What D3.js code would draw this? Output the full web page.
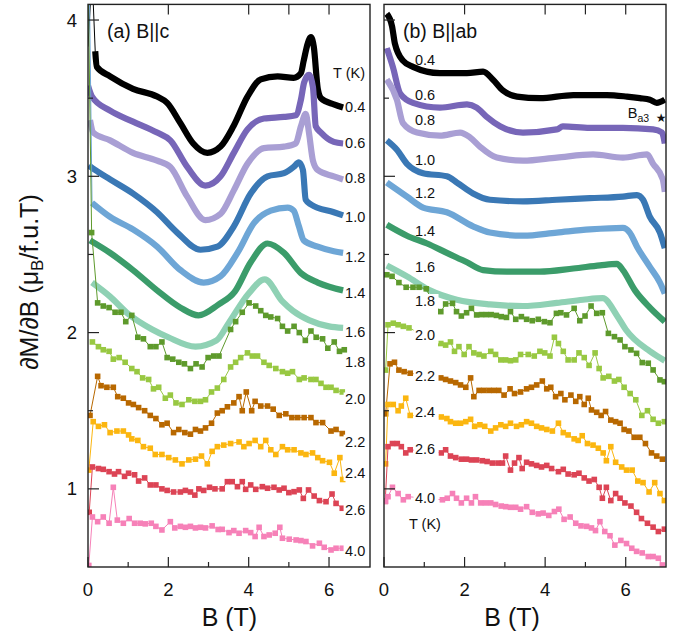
<!DOCTYPE html>
<html><head><meta charset="utf-8">
<script src="https://cdn.jsdelivr.net/npm/d3@7"></script>
<style>
body{margin:0;background:#fff}
svg{display:block}
text{font-family:"Liberation Sans",Arial,Helvetica,sans-serif;fill:#111}
</style>
</head><body>
<svg id="chart" width="683" height="637"></svg>
<script>
// ---------- data ----------
const temps = ["0.4","0.6","0.8","1.0","1.2","1.4","1.6","1.8","2.0","2.2","2.4","2.6","4.0"];
const colors = ["#000000","#7766b8","#a99fd4","#3a78b5","#6ea6d6","#3b9c6a","#8fd1b4","#5e9a2c","#98c842","#b86800","#fbb610","#dc4455","#f681b8"];
const denseCount = 7; // first seven temperatures are dense (continuous) curves

// panel (a) B||c : [B (T), dM/dB]
const a04 = [[0,3.83],[0.1,4.3],[0.18,3.8],[0.22,3.70],[0.55,3.64],[1.12,3.56],[1.72,3.51],[1.97,3.47],[2.3,3.34],[2.62,3.21],[2.97,3.15],[3.3,3.19],[3.62,3.32],[3.97,3.51],[4.3,3.62],[4.72,3.64],[5.12,3.63],[5.3,3.66],[5.37,3.74],[5.47,3.85],[5.55,3.89],[5.62,3.83],[5.72,3.56],[5.8,3.5],[6.12,3.46],[6.35,3.44]];
const a06 = [[0,3.58],[0.1,3.51],[0.55,3.42],[1.12,3.35],[1.72,3.28],[2.05,3.23],[2.47,3.06],[2.92,2.94],[3.3,3.0],[3.63,3.15],[3.97,3.3],[4.38,3.37],[4.88,3.38],[5.17,3.39],[5.3,3.49],[5.38,3.6],[5.5,3.65],[5.6,3.57],[5.67,3.32],[5.8,3.28],[6.12,3.22],[6.35,3.21]];
const a08 = [[0.05,3.36],[0.13,3.28],[0.55,3.23],[1.12,3.15],[1.72,3.1],[2.05,3.06],[2.47,2.87],[2.92,2.72],[3.3,2.76],[3.63,2.91],[3.97,3.08],[4.38,3.18],[4.88,3.19],[5.17,3.21],[5.3,3.32],[5.42,3.4],[5.5,3.28],[5.6,3.1],[5.72,3.04],[6.12,3.0],[6.35,2.98]];
const a10 = [[0.02,3.07],[0.18,3.04],[0.55,2.98],[1.12,2.89],[1.72,2.77],[2.22,2.64],[2.8,2.53],[3.22,2.55],[3.63,2.68],[4.05,2.89],[4.47,3.0],[4.88,3.02],[5.12,3.06],[5.25,3.09],[5.35,3.04],[5.42,2.85],[5.55,2.82],[6.12,2.77],[6.35,2.75]];
const a12 = [[0,3.92],[0.03,4.3],[0.1,2.83],[0.55,2.74],[1.12,2.66],[1.72,2.55],[2.3,2.4],[2.88,2.32],[3.3,2.36],[3.72,2.51],[4.13,2.7],[4.55,2.78],[4.97,2.8],[5.12,2.78],[5.25,2.68],[5.37,2.59],[5.72,2.55],[6.12,2.52],[6.35,2.51]];
const a14 = [[0.05,2.59],[0.55,2.51],[1.12,2.4],[1.72,2.27],[2.3,2.16],[2.75,2.11],[3.25,2.18],[3.65,2.26],[4.05,2.45],[4.47,2.57],[4.88,2.51],[5.3,2.38],[5.72,2.32],[6.35,2.27]];
const a16 = [[0.1,2.32],[0.55,2.23],[1.0,2.12],[1.6,2.02],[2.0,1.97],[2.675,1.91],[3.2,1.95],[3.5,2.06],[4.0,2.25],[4.4,2.34],[4.84,2.2],[5.1,2.14],[5.5,2.08],[6.0,2.04],[6.35,2.03]];
const a18 = [[0.0,4.3],[0.09,2.64],[0.24,2.19],[0.38,2.17],[0.525,2.16],[0.675,2.13],[0.82,2.13],[0.94,2.07],[1.09,2.11],[1.24,1.97],[1.38,1.96],[1.55,1.91],[1.69,1.91],[1.84,1.94],[1.97,1.84],[2.11,1.83],[2.26,1.81],[2.4,1.8],[2.55,1.77],[2.69,1.8],[2.84,1.78],[2.99,1.84],[3.13,1.85],[3.26,1.85],[3.55,2.02],[3.675,2.07],[3.84,2.13],[4.01,2.19],[4.175,2.17],[4.3,2.14],[4.425,2.11],[4.55,2.1],[4.72,2.09],[4.84,2.04],[4.97,2.01],[5.13,2.04],[5.26,2.0],[5.41,1.95],[5.55,2.01],[5.68,1.97],[5.84,1.96],[5.97,1.9],[6.13,1.94],[6.26,1.88],[6.38,1.89]];
const a20 = [[0.11,1.94],[0.26,1.91],[0.38,1.89],[0.525,1.88],[0.63,1.83],[0.775,1.84],[0.925,1.81],[1.09,1.77],[1.22,1.75],[1.36,1.71],[1.51,1.7],[1.63,1.64],[1.76,1.65],[1.925,1.58],[2.05,1.6],[2.19,1.55],[2.34,1.54],[2.51,1.57],[2.66,1.56],[2.8,1.56],[2.925,1.57],[3.075,1.62],[3.22,1.645],[3.38,1.7],[3.55,1.78],[3.675,1.81],[3.8,1.84],[3.97,1.87],[4.09,1.85],[4.22,1.85],[4.38,1.81],[4.51,1.79],[4.675,1.77],[4.84,1.75],[4.97,1.74],[5.09,1.75],[5.26,1.7],[5.38,1.71],[5.55,1.7],[5.675,1.7],[5.8,1.675],[5.925,1.65],[6.05,1.65],[6.175,1.63],[6.33,1.62]];
const a22 = [[0.05,1.47],[0.24,1.72],[0.325,1.66],[0.47,1.65],[0.63,1.65],[0.74,1.59],[0.88,1.58],[1.01,1.55],[1.13,1.54],[1.26,1.52],[1.41,1.5],[1.55,1.47],[1.69,1.45],[1.84,1.41],[1.97,1.42],[2.13,1.36],[2.26,1.38],[2.41,1.36],[2.55,1.35],[2.675,1.38],[2.8,1.37],[2.925,1.39],[3.075,1.42],[3.22,1.485],[3.34,1.5],[3.47,1.525],[3.63,1.55],[3.76,1.59],[3.84,1.5],[3.94,1.62],[4.075,1.5],[4.16,1.56],[4.3,1.53],[4.47,1.53],[4.61,1.51],[4.76,1.47],[4.925,1.48],[5.075,1.456],[5.22,1.456],[5.38,1.456],[5.55,1.456],[5.675,1.424],[5.84,1.424],[6.05,1.37],[6.175,1.38],[6.33,1.354]];
const a24 = [[0.02,1.12],[0.13,1.43],[0.26,1.4],[0.41,1.41],[0.55,1.36],[0.72,1.37],[0.88,1.37],[1.01,1.345],[1.09,1.32],[1.24,1.31],[1.38,1.27],[1.55,1.26],[1.675,1.22],[1.84,1.22],[2.01,1.2],[2.175,1.185],[2.34,1.16],[2.51,1.185],[2.675,1.19],[2.825,1.21],[2.97,1.16],[3.09,1.24],[3.22,1.27],[3.38,1.28],[3.55,1.29],[3.76,1.3],[3.88,1.27],[4.01,1.29],[4.16,1.31],[4.3,1.27],[4.425,1.31],[4.55,1.25],[4.675,1.22],[4.84,1.27],[4.97,1.25],[5.13,1.25],[5.3,1.23],[5.425,1.22],[5.59,1.23],[5.72,1.2],[5.84,1.18],[6.01,1.17],[6.13,1.1],[6.27,1.2],[6.34,1.06]];
const a26 = [[0.03,0.85],[0.11,1.14],[0.26,1.13],[0.38,1.125],[0.525,1.11],[0.66,1.095],[0.76,1.11],[0.91,1.08],[1.01,1.1],[1.16,1.09],[1.26,1.05],[1.41,1.07],[1.55,1.025],[1.69,1.025],[1.84,1.0],[1.97,0.99],[2.13,0.98],[2.3,0.98],[2.425,0.99],[2.55,0.98],[2.66,0.96],[2.76,1.0],[2.88,0.99],[3.025,1.01],[3.16,1.0],[3.34,1.0],[3.47,1.046],[3.59,1.046],[3.72,1.014],[3.84,1.046],[3.925,0.997],[4.05,1.025],[4.175,0.997],[4.34,1.014],[4.47,1.004],[4.63,1.01],[4.76,0.993],[4.88,1.004],[5.0,0.976],[5.13,0.982],[5.26,0.993],[5.36,0.939],[5.49,0.993],[5.63,0.954],[5.76,0.925],[5.925,0.918],[6.075,0.967],[6.175,0.907],[6.33,0.876]];
const a40 = [[0.02,0.51],[0.11,0.82],[0.24,0.79],[0.38,0.82],[0.525,0.78],[0.63,1.01],[0.73,0.8],[0.88,0.78],[1.025,0.81],[1.16,0.78],[1.3,0.78],[1.425,0.776],[1.575,0.78],[1.69,0.76],[1.84,0.737],[2.05,0.79],[2.16,0.75],[2.3,0.76],[2.425,0.754],[2.55,0.76],[2.675,0.75],[2.8,0.754],[2.925,0.75],[3.09,0.763],[3.24,0.74],[3.34,0.741],[3.51,0.72],[3.63,0.733],[3.76,0.716],[3.925,0.733],[4.05,0.72],[4.16,0.695],[4.26,0.754],[4.38,0.695],[4.51,0.705],[4.66,0.716],[4.775,0.754],[4.84,0.684],[5.01,0.678],[5.18,0.673],[5.3,0.669],[5.425,0.663],[5.59,0.635],[5.76,0.652],[5.88,0.626],[6.05,0.609],[6.175,0.62],[6.33,0.62]];

// panel (b) B||ab
const b04 = [[0.07,4.04],[0.2,3.96],[0.27,3.85],[0.47,3.74],[0.72,3.7],[1.39,3.66],[2.06,3.66],[2.46,3.67],[2.7,3.62],[2.95,3.55],[3.3,3.51],[3.87,3.5],[4.7,3.52],[5.53,3.52],[6.03,3.51],[6.35,3.5],[6.6,3.49],[6.77,3.47],[6.97,3.49]];
const b06 = [[0.07,3.82],[0.22,3.7],[0.4,3.53],[0.72,3.47],[1.39,3.44],[2.06,3.46],[2.3,3.44],[2.55,3.38],[2.88,3.32],[3.45,3.28],[4.29,3.3],[4.44,3.32],[5.11,3.31],[5.93,3.31],[6.68,3.3],[6.9,3.28],[6.97,3.21]];
const b08 = [[0.07,3.62],[0.32,3.49],[0.47,3.34],[0.82,3.28],[1.39,3.26],[1.89,3.28],[2.13,3.25],[2.38,3.19],[2.8,3.12],[3.45,3.1],[4.29,3.12],[5.19,3.14],[5.93,3.12],[6.53,3.14],[6.68,3.08],[6.92,2.98],[6.97,2.9]];
const b10 = [[0.07,3.23],[0.32,3.17],[0.57,3.08],[0.97,3.02],[1.56,3.0],[1.81,2.96],[2.21,2.89],[2.63,2.85],[3.45,2.84],[4.29,2.85],[5.11,2.86],[5.93,2.87],[6.28,2.88],[6.43,2.85],[6.6,2.74],[6.85,2.64],[6.97,2.54]];
const b12 = [[0.07,2.96],[0.57,2.87],[0.97,2.8],[1.56,2.77],[2.21,2.68],[2.63,2.64],[3.45,2.62],[4.29,2.64],[5.11,2.66],[5.93,2.67],[6.1,2.64],[6.28,2.55],[6.6,2.42],[6.85,2.32],[6.97,2.25]];
const b14 = [[0.07,2.69],[0.57,2.62],[1.07,2.57],[1.56,2.51],[2.06,2.45],[2.46,2.4],[3.05,2.39],[3.87,2.39],[4.7,2.41],[5.36,2.43],[5.78,2.44],[5.93,2.4],[6.23,2.27],[6.6,2.16],[6.97,2.07]];
const b16 = [[0.07,2.43],[0.57,2.36],[1.14,2.27],[1.81,2.21],[2.63,2.18],[3.45,2.17],[4.29,2.19],[4.94,2.21],[5.43,2.22],[5.78,2.11],[6.0,2.02],[6.6,1.88],[6.97,1.82]];
const b18 = [[0.07,2.37],[0.2,2.36],[0.37,2.32],[0.55,2.29],[0.72,2.29],[0.87,2.29],[1.05,2.28],[1.2,2.2],[1.41,2.134],[1.53,2.183],[1.7,2.187],[1.8,2.134],[1.92,2.106],[2.05,2.127],[2.17,2.155],[2.3,2.113],[2.42,2.115],[2.54,2.115],[2.66,2.115],[2.79,2.11],[2.91,2.102],[3.04,2.097],[3.14,2.134],[3.27,2.085],[3.41,2.102],[3.54,2.085],[3.68,2.076],[3.83,2.085],[3.98,2.07],[4.12,2.063],[4.28,2.123],[4.39,2.127],[4.53,2.113],[4.72,2.155],[4.86,2.076],[4.99,2.106],[5.14,2.17],[5.28,2.123],[5.42,2.127],[5.57,1.995],[5.72,1.974],[5.86,1.953],[5.98,1.91],[6.13,1.889],[6.27,1.867],[6.41,1.808],[6.56,1.804],[6.68,1.761],[6.85,1.697],[6.96,1.686]];
const b20 = [[0.04,1.76],[0.1,2.05],[0.23,2.06],[0.35,2.05],[0.48,2.04],[0.62,2.03],[1.41,1.93],[1.53,1.92],[1.65,1.94],[1.75,1.88],[1.86,1.91],[1.99,1.86],[2.11,1.91],[2.23,1.87],[2.36,1.86],[2.48,1.85],[2.65,1.88],[2.77,1.86],[2.9,1.825],[3.02,1.825],[3.14,1.82],[3.27,1.825],[3.39,1.86],[3.58,1.86],[3.73,1.85],[3.87,1.88],[3.99,1.87],[4.12,1.85],[4.23,1.97],[4.33,1.93],[4.45,1.88],[4.57,1.825],[4.72,1.825],[4.84,1.87],[4.97,1.84],[5.09,1.79],[5.24,1.87],[5.34,1.77],[5.44,1.71],[5.58,1.72],[5.72,1.69],[5.83,1.7],[5.96,1.65],[6.11,1.61],[6.25,1.57],[6.4,1.47],[6.54,1.5],[6.68,1.445],[6.81,1.42],[6.96,1.43]];
const b22 = [[0.04,1.48],[0.15,1.8],[0.26,1.81],[0.37,1.76],[0.5,1.75],[0.65,1.74],[1.41,1.71],[1.53,1.7],[1.65,1.69],[1.78,1.68],[1.9,1.665],[2.03,1.65],[2.15,1.71],[2.23,1.59],[2.36,1.63],[2.48,1.63],[2.61,1.63],[2.73,1.63],[2.85,1.63],[2.98,1.6],[3.13,1.64],[3.24,1.61],[3.39,1.62],[3.54,1.64],[3.66,1.65],[3.79,1.665],[3.93,1.69],[4.04,1.64],[4.14,1.65],[4.26,1.59],[4.39,1.61],[4.49,1.57],[4.64,1.6],[4.76,1.56],[4.86,1.59],[4.97,1.54],[5.07,1.58],[5.15,1.505],[5.28,1.49],[5.39,1.47],[5.5,1.495],[5.63,1.44],[5.75,1.43],[5.86,1.42],[5.96,1.38],[6.08,1.37],[6.21,1.33],[6.35,1.33],[6.49,1.29],[6.64,1.23],[6.77,1.21],[6.91,1.19]];
const b24 = [[0.04,1.16],[0.1,1.54],[0.23,1.54],[0.35,1.5],[0.43,1.53],[0.54,1.58],[0.65,1.47],[1.42,1.46],[1.56,1.45],[1.65,1.43],[1.78,1.42],[1.9,1.42],[2.03,1.43],[2.15,1.445],[2.25,1.4],[2.38,1.41],[2.5,1.4],[2.65,1.37],[2.77,1.39],[2.9,1.41],[3.02,1.4],[3.14,1.42],[3.29,1.4],[3.41,1.41],[3.54,1.43],[3.66,1.42],[3.79,1.4],[3.91,1.39],[4.04,1.38],[4.18,1.37],[4.33,1.42],[4.45,1.36],[4.57,1.345],[4.72,1.32],[4.82,1.31],[4.92,1.34],[5.05,1.29],[5.19,1.28],[5.32,1.26],[5.44,1.23],[5.52,1.18],[5.63,1.27],[5.75,1.17],[5.9,1.14],[6.02,1.12],[6.16,1.12],[6.3,1.05],[6.43,1.04],[6.58,0.98],[6.72,1.04],[6.85,0.97],[6.96,0.925]];
const b26 = [[0.03,0.92],[0.1,1.27],[0.21,1.29],[0.33,1.29],[0.43,1.27],[0.54,1.23],[0.65,1.25],[1.42,1.23],[1.53,1.25],[1.65,1.21],[1.78,1.2],[1.92,1.19],[2.05,1.19],[2.17,1.185],[2.3,1.185],[2.44,1.18],[2.56,1.175],[2.69,1.165],[2.83,1.165],[2.94,1.165],[3.02,1.21],[3.14,1.12],[3.24,1.165],[3.35,1.2],[3.43,1.13],[3.54,1.17],[3.66,1.16],[3.79,1.15],[3.91,1.14],[4.04,1.15],[4.16,1.13],[4.33,1.11],[4.45,1.125],[4.57,1.095],[4.72,1.09],[4.84,1.1],[4.97,1.07],[5.09,1.05],[5.22,1.06],[5.34,1.01],[5.42,0.94],[5.52,1.01],[5.63,0.925],[5.75,0.97],[5.86,0.94],[5.98,0.91],[6.13,0.89],[6.27,0.85],[6.39,0.81],[6.54,0.78],[6.68,0.755],[6.81,0.727],[6.96,0.742]];
const b40 = [[0.04,0.92],[0.1,0.95],[0.21,1.01],[0.35,0.97],[0.48,0.93],[0.6,0.95],[1.45,0.93],[1.57,0.94],[1.7,0.97],[1.8,0.94],[1.92,0.91],[2.05,0.94],[2.17,0.91],[2.27,0.95],[2.4,0.91],[2.52,0.91],[2.65,0.91],[2.77,0.9],[2.91,0.89],[3.02,0.886],[3.14,0.882],[3.27,0.882],[3.39,0.87],[3.54,0.886],[3.68,0.85],[3.83,0.84],[3.95,0.845],[4.09,0.83],[4.23,0.855],[4.34,0.87],[4.47,0.805],[4.62,0.82],[4.76,0.78],[4.89,0.763],[5.03,0.76],[5.15,0.75],[5.25,0.733],[5.36,0.79],[5.48,0.727],[5.61,0.7],[5.73,0.64],[5.88,0.67],[6.02,0.65],[6.15,0.62],[6.27,0.6],[6.41,0.59],[6.56,0.567],[6.68,0.567],[6.81,0.556],[6.91,0.513]];

// label anchors (in data units)
const labelsA_B = 6.40;
const labelsA_V = [3.41,3.18,2.96,2.71,2.45,2.22,1.97,1.78,1.54,1.27,1.07,0.83,0.57];
const tkA = [6.1, 3.63];
const labelsB_B = 0.77;
const labelsB_V = [3.71,3.49,3.33,3.07,2.86,2.62,2.39,2.17,1.95,1.69,1.46,1.22,0.91];
const tkB = [0.62, 0.74];
const ba3 = [6.05, 3.37];

const xMajor = [0,2,4,6], xMinor = [1,3,5], xTop = [2,4,5,6];
const yMajor = [1,2,3,4], yMinor = [1.5,2.5,3.5];

// ---------- drawing ----------
const svg = d3.select("#chart");
const y = d3.scaleLinear().domain([0.5,4.1]).range([567,4.4]);
const xA = d3.scaleLinear().domain([0,7.02]).range([88,370]);
const xB = d3.scaleLinear().domain([0,7]).range([384,666]);

function panel(id, x, series, labB, labV, tk, title, titleX, axisMid){
  const [x0,x1] = x.range(), [y1,y0] = y.range();
  svg.append("clipPath").attr("id","clip"+id).append("rect")
    .attr("x",x0).attr("y",y0).attr("width",x1-x0).attr("height",y1-y0);
  const g = svg.append("g").attr("clip-path","url(#clip"+id+")");
  const thin = d3.line().x(d=>x(d[0])).y(d=>y(d[1]));
  const thick = d3.line().x(d=>x(d[0])).y(d=>y(d[1])).curve(d3.curveMonotoneX);
  series.forEach((s,i)=>{
    const c = colors[i];
    g.append("path").attr("d",thin(s)).attr("fill","none").attr("stroke",c).attr("stroke-width",1);
    if(i<denseCount){
      // thick trace starts after any off-scale lead-in spike
      let last = -1;
      s.forEach((d,k)=>{ if(d[1] > y.domain()[1]) last = k; });
      const main = s.slice(last+1);
      g.append("path").attr("d",thick(main)).attr("fill","none").attr("stroke",c)
        .attr("stroke-width",6.2).attr("stroke-linejoin","round");
    } else {
      g.selectAll(null).data(s).enter().append("rect")
        .attr("x",d=>x(d[0])-2.8).attr("y",d=>y(d[1])-2.8)
        .attr("width",5.6).attr("height",5.6).attr("fill",c);
    }
  });
  // labels
  temps.forEach((t,i)=>{
    const lx = x(labB), ly = y(labV[i]);
    if(i>=denseCount){
      svg.append("rect").attr("x",lx-1.5).attr("y",ly-12).attr("width",25).attr("height",15).attr("fill","#fff");
    }
    svg.append("text").attr("x",lx).attr("y",ly).attr("font-size",14.5).text(t);
  });
  svg.append("text").attr("x",x(tk[0])).attr("y",y(tk[1])).attr("font-size",14.5).text("T (K)");
  // frame
  svg.append("rect").attr("x",x0).attr("y",y0).attr("width",x1-x0).attr("height",y1-y0)
    .attr("fill","none").attr("stroke","#222").attr("stroke-width",1.4);
  // ticks
  const tk2 = svg.append("g").attr("stroke","#222").attr("stroke-width",1.2);
  xMajor.forEach(v=>tk2.append("line").attr("x1",x(v)).attr("x2",x(v)).attr("y1",y1).attr("y2",y1-10));
  xMinor.forEach(v=>tk2.append("line").attr("x1",x(v)).attr("x2",x(v)).attr("y1",y1).attr("y2",y1-5));
  xTop.forEach(v=>tk2.append("line").attr("x1",x(v)).attr("x2",x(v)).attr("y1",y0).attr("y2",y0+10));
  yMajor.forEach(v=>tk2.append("line").attr("x1",x0).attr("x2",x0+11).attr("y1",y(v)).attr("y2",y(v)));
  yMinor.forEach(v=>tk2.append("line").attr("x1",x0).attr("x2",x0+5).attr("y1",y(v)).attr("y2",y(v)));
  xMajor.forEach(v=>svg.append("text").attr("x",x(v)).attr("y",596).attr("text-anchor","middle")
    .attr("font-size",18.5).text(v));
  svg.append("text").attr("x",x(axisMid)).attr("y",626).attr("text-anchor","middle")
    .attr("font-size",25).text("B (T)");
  svg.append("text").attr("x",titleX).attr("y",38).attr("font-size",19.5).text(title);
}

panel("A", xA, [a04,a06,a08,a10,a12,a14,a16,a18,a20,a22,a24,a26,a40], labelsA_B, labelsA_V, tkA, "(a) B||c", 107, 3.52);
panel("B", xB, [b04,b06,b08,b10,b12,b14,b16,b18,b20,b22,b24,b26,b40], labelsB_B, labelsB_V, tkB, "(b) B||ab", 403, 3.18);

// y tick labels (panel a only)
yMajor.forEach(v=>svg.append("text").attr("x",77).attr("y",y(v)+6.5).attr("text-anchor","end")
  .attr("font-size",18.5).text(v));

// B_a3 star annotation
const ba = svg.append("text").attr("x",xB(ba3[0])).attr("y",y(ba3[1])).attr("font-size",14.5);
ba.append("tspan").text("B");
ba.append("tspan").attr("font-size",10.5).attr("dy",4).text("a3");
svg.append("text").attr("x",xB(ba3[0])+28).attr("y",y(ba3[1])+4).attr("font-size",12)
  .style("font-family","DejaVu Sans").text("\u2605");

// y axis title
const yl = svg.append("text").attr("transform","translate(38,282) rotate(-90)")
  .attr("text-anchor","middle").attr("font-size",25);
yl.append("tspan").text("\u2202M/\u2202B (\u03bc");
yl.append("tspan").attr("font-size",17).attr("dy",5).text("B");
yl.append("tspan").attr("dy",-5).text("/f.u.T)");
</script>
</body></html>
